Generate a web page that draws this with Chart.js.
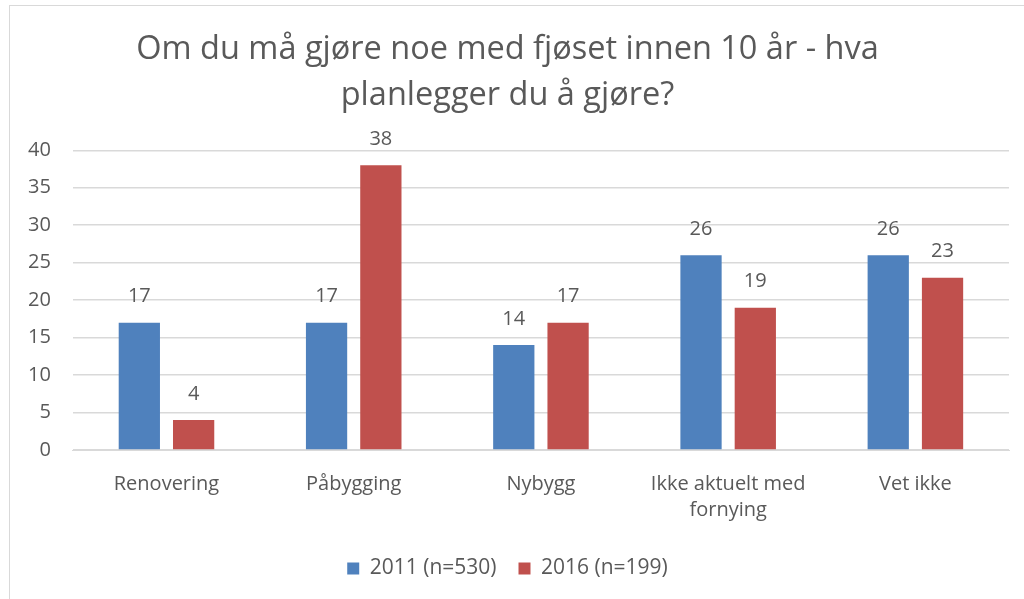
<!DOCTYPE html>
<html lang="no">
<head>
    <meta charset="UTF-8">
    <title>Fjøs - planer</title>
    <script src="https://cdn.jsdelivr.net/npm/chart.js"></script>
    <style>
        html, body { margin: 0; padding: 0; background: #fff; overflow: hidden; }
        .wrap { position: relative; width: 1024px; height: 599px; }
        .frame { position: absolute; left: 9px; top: 5px; width: 1100px; height: 700px; border: 1px solid #d9d9d9; }
        canvas { position: absolute; left: 0; top: 0; }
    </style>
</head>
<body>
<div class="wrap">
    <div class="frame"></div>
    <canvas id="chart" width="1024" height="599"></canvas>
</div>
<script>
    const categories = ["Renovering", "Påbygging", "Nybygg", ["Ikke aktuelt med", "fornying"], "Vet ikke"];
    const values2011 = [17, 17, 14, 26, 26];
    const values2016 = [4, 38, 17, 19, 23];
    const seriesNames = ["2011 (n=530)", "2016 (n=199)"];
    const yTicks = [0, 5, 10, 15, 20, 25, 30, 35, 40];

    const fontFamily = "'Open Sans', 'Noto Sans', sans-serif";
    const textColor = "#595959";

    // tall over hver søyle
    const barLabels = {
        id: "barLabels",
        afterDatasetsDraw(chart) {
            const ctx = chart.ctx;
            ctx.save();
            ctx.font = "20px " + fontFamily;
            ctx.fillStyle = textColor;
            ctx.textAlign = "center";
            ctx.textBaseline = "middle";
            chart.data.datasets.forEach((ds, i) => {
                chart.getDatasetMeta(i).data.forEach((bar, j) => {
                    ctx.fillText(ds.data[j], bar.x, bar.y - 26);
                });
            });
            ctx.restore();
        }
    };

    new Chart(document.getElementById("chart"), {
        type: "bar",
        data: {
            labels: categories,
            datasets: [
                { label: seriesNames[0], data: values2011, backgroundColor: "#4f81bd" },
                { label: seriesNames[1], data: values2016, backgroundColor: "#c0504d" }
            ]
        },
        options: {
            responsive: false,
            animation: false,
            layout: { padding: { left: 6, right: 15, top: 20, bottom: 10 } },
            datasets: { bar: { categoryPercentage: 0.58, barPercentage: 0.76 } },
            scales: {
                x: {
                    grid: { display: false },
                    border: { color: "#d9d9d9" },
                    ticks: { color: textColor, font: { family: fontFamily, size: 20, lineHeight: 1.3 }, padding: 13, maxRotation: 0 }
                },
                y: {
                    min: 0, max: 40,
                    afterBuildTicks(axis) { axis.ticks = yTicks.map(v => ({ value: v })); },
                    grid: { color: "#d9d9d9", lineWidth: 1.5, drawTicks: false, tickLength: 0 },
                    border: { display: false },
                    ticks: { color: textColor, font: { family: fontFamily, size: 20 }, padding: 22 }
                }
            },
            plugins: {
                title: {
                    display: true,
                    text: ["Om du må gjøre noe med fjøset innen 10 år - hva", "planlegger du å gjøre?"],
                    color: textColor,
                    font: { family: fontFamily, size: 32.5, weight: "normal", lineHeight: 1.42 },
                    padding: { top: 7, bottom: 31 }
                },
                legend: {
                    position: "bottom",
                    labels: {
                        color: textColor,
                        font: { family: fontFamily, size: 21 },
                        boxWidth: 12, boxHeight: 12, padding: 22
                    }
                },
                tooltip: { enabled: false }
            }
        },
        plugins: [barLabels]
    });
</script>
</body>
</html>
